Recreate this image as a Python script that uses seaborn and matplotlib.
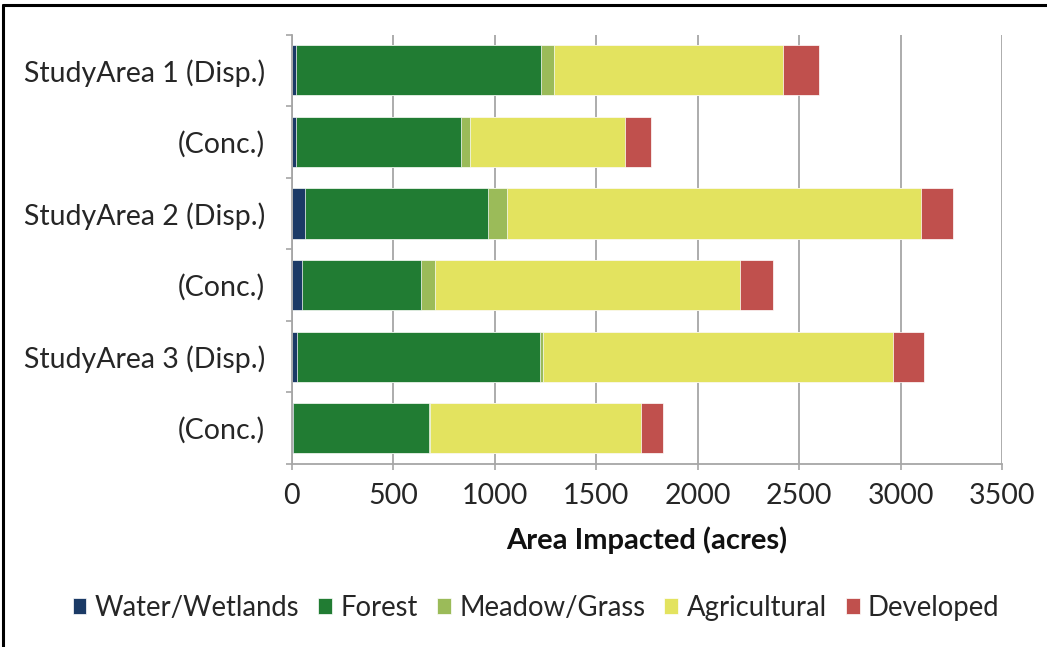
import matplotlib
matplotlib.use("Agg")
import matplotlib.pyplot as plt
from matplotlib.lines import Line2D
from matplotlib.patches import Patch
from matplotlib.ticker import FixedLocator
import numpy as np
import pandas as pd
import seaborn as sns

# Land cover impacted per alternative (acres)
row_keys = ["sa1_disp", "sa1_conc", "sa2_disp", "sa2_conc", "sa3_disp", "sa3_conc"]
row_labels = ["StudyArea 1 (Disp.)", "(Conc.)", "StudyArea 2 (Disp.)", "(Conc.)",
              "StudyArea 3 (Disp.)", "(Conc.)"]
water = [20, 22, 66, 53, 28, 5]
forest = [1210, 811, 900, 586, 1196, 670]
meadow = [65, 45, 94, 69, 13, 7]
agricultural = [1127, 767, 2039, 1503, 1724, 1038]
developed = [177, 126, 162, 163, 156, 112]

cover_names = ["Water/Wetlands", "Forest", "Meadow/Grass", "Agricultural", "Developed"]
cover_colors = ["#1b3a66", "#217c33", "#9bbb59", "#e3e35f", "#c0504d"]
x_ticks = [0, 500, 1000, 1500, 2000, 2500, 3000, 3500]

sns.set_theme(style="white")
plt.rcParams["font.family"] = ["Lato", "DejaVu Sans"]
text_color = "#262626"
grid_color = "#a6a6a6"

df = pd.DataFrame({"row": row_keys, "Water/Wetlands": water, "Forest": forest,
                   "Meadow/Grass": meadow, "Agricultural": agricultural,
                   "Developed": developed})
cum = df[cover_names].cumsum(axis=1)

W, H = 1047, 647
fig = plt.figure(figsize=(W / 100, H / 100), dpi=100)
ax = fig.add_axes([291.6 / W, 1 - 464 / H, (1002 - 291.6) / W, (464 - 34.5) / H])

# Stacked bars: draw cumulative totals from the outermost layer inwards
for name, color in reversed(list(zip(cover_names, cover_colors))):
    layer = pd.DataFrame({"row": row_keys, "value": cum[name]})
    sns.barplot(data=layer, x="value", y="row", order=row_keys, orient="h",
                color=color, saturation=1, width=0.7, edgecolor="white",
                linewidth=0.5, ax=ax)

ax.set_xlim(0, 3500)
ax.set_ylim(5.5, -0.5)
ax.xaxis.set_major_locator(FixedLocator(x_ticks))
ax.set_xticklabels([str(t) for t in x_ticks], fontsize=20.5, color=text_color)
ax.set_yticks(range(len(row_keys)))
ax.set_yticklabels(row_labels, fontsize=20.5, color=text_color)
ax.yaxis.set_minor_locator(FixedLocator(np.arange(-0.5, 6, 1.0)))
ax.tick_params(axis="y", which="major", length=0, pad=19)
ax.tick_params(axis="y", which="minor", left=True, length=4.5, width=1.2, color=grid_color)
ax.tick_params(axis="x", which="major", bottom=True, length=4.5, width=1.2,
               color=grid_color, pad=9)

ax.xaxis.grid(True, color=grid_color, linewidth=1.3)
ax.yaxis.grid(False)
ax.set_axisbelow(True)
for side in ["top", "right"]:
    ax.spines[side].set_visible(False)
for side in ["left", "bottom"]:
    ax.spines[side].set_color(grid_color)
    ax.spines[side].set_linewidth(1.3)

ax.set_ylabel("")
ax.set_xlabel("Area Impacted (acres)", fontsize=21, fontweight="bold", color="#111111")
ax.xaxis.set_label_coords(0.5, (H - 540 - (H - 464)) / (464 - 34.5))
ax.xaxis.label.set_va("center")

handles = [Patch(facecolor=c, edgecolor="white", linewidth=0.5) for c in cover_colors]
fig.legend(handles, cover_names, loc="center", bbox_to_anchor=(536 / W, 1 - 608 / H),
           ncol=5, frameon=False, fontsize=19.8, handlelength=0.5, handleheight=0.5,
           handletextpad=0.3, columnspacing=0.7, labelcolor=text_color)

# Frame lines along the top and left edges of the figure
fig.add_artist(Line2D([3 / W, 3 / W], [0, 1 - 5 / H], color="black", linewidth=2.2,
                      transform=fig.transFigure))
fig.add_artist(Line2D([3 / W, 1], [1 - 5 / H, 1 - 5 / H], color="black", linewidth=2.2,
                      transform=fig.transFigure))

fig.savefig("out.png", dpi=100)
